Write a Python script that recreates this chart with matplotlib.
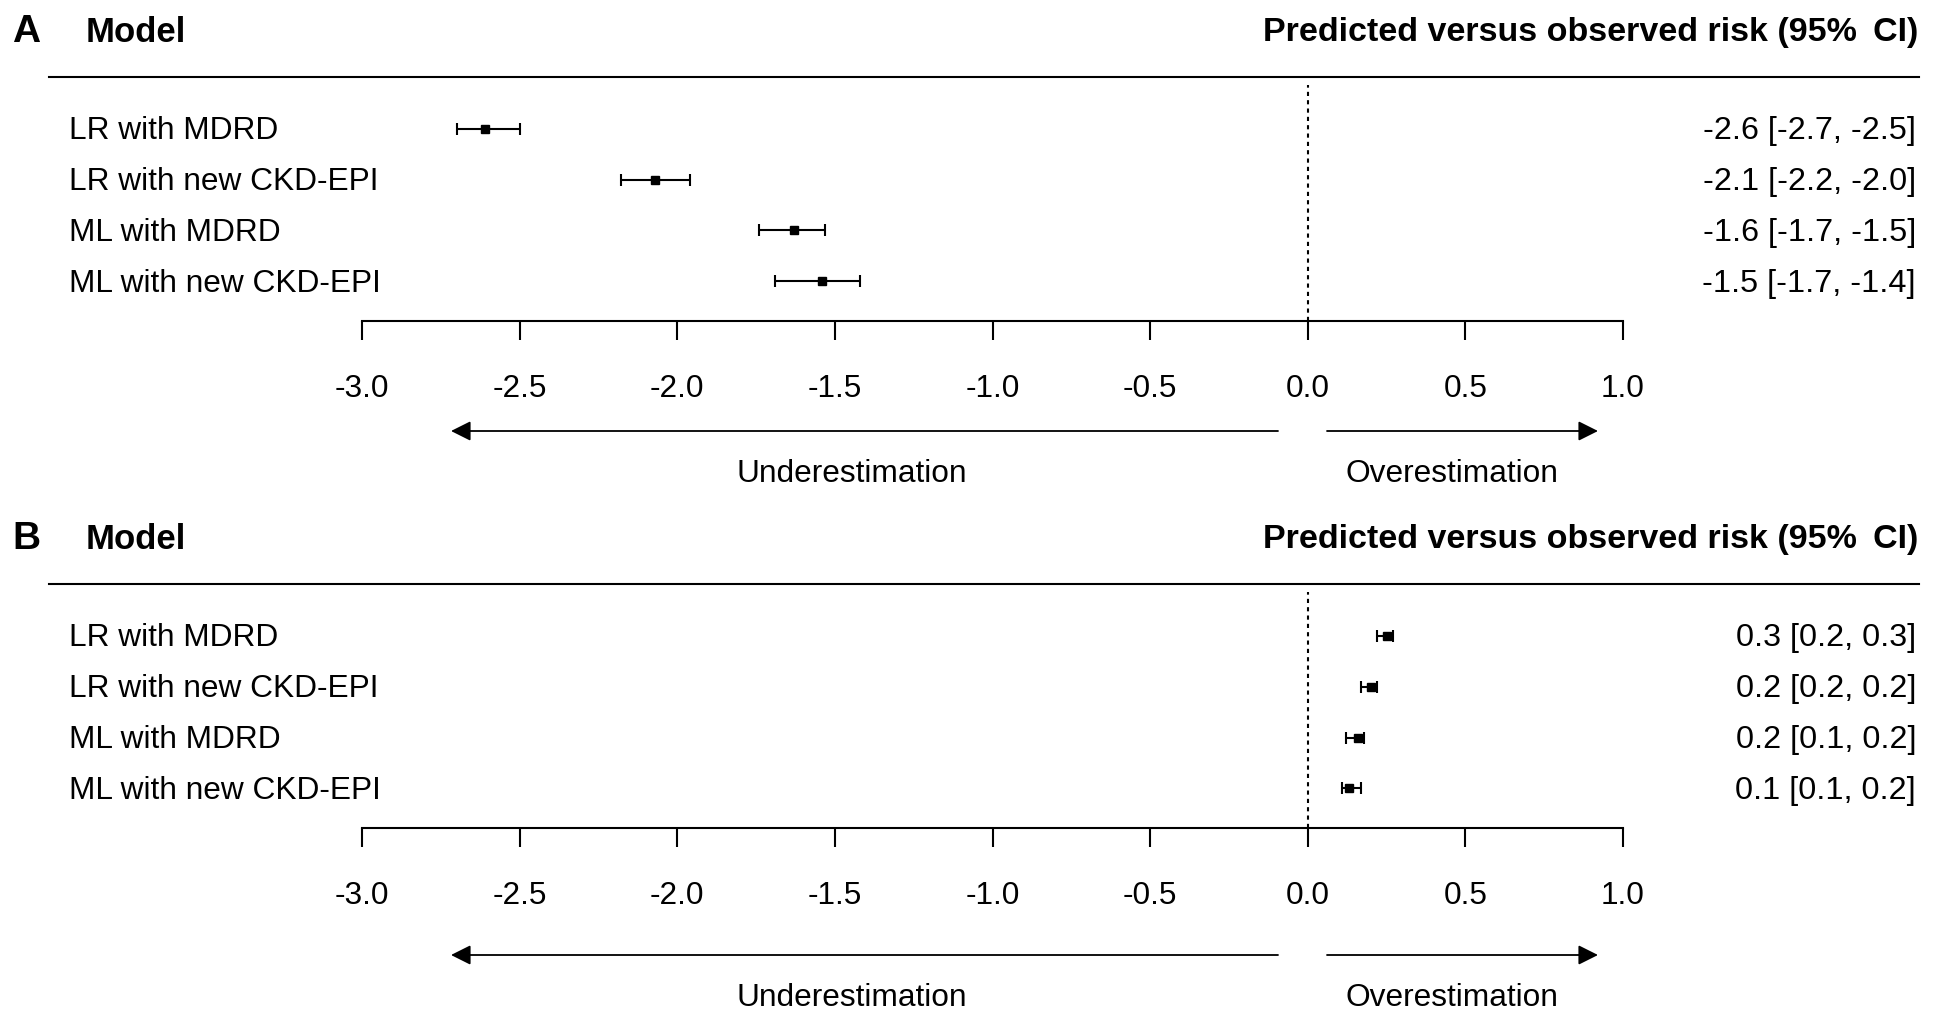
import matplotlib
matplotlib.use("Agg")
import matplotlib.pyplot as plt
from matplotlib.lines import Line2D
from matplotlib.ticker import FixedLocator, FixedFormatter

plt.rcParams['font.family'] = ['Liberation Sans', 'DejaVu Sans']
plt.rcParams['axes.unicode_minus'] = False

# ---------------- data ----------------
models = ["LR with MDRD", "LR with new CKD-EPI", "ML with MDRD", "ML with new CKD-EPI"]

a_est = [-2.61, -2.07, -1.63, -1.54]
a_lo = [-2.70, -2.18, -1.74, -1.69]
a_hi = [-2.50, -1.96, -1.53, -1.42]
a_text = ["-2.6 [-2.7, -2.5]", "-2.1 [-2.2, -2.0]", "-1.6 [-1.7, -1.5]", "-1.5 [-1.7, -1.4]"]

b_est = [0.25, 0.20, 0.16, 0.13]
b_lo = [0.22, 0.17, 0.12, 0.11]
b_hi = [0.27, 0.22, 0.18, 0.17]
b_text = ["0.3 [0.2, 0.3]", "0.2 [0.2, 0.2]", "0.2 [0.1, 0.2]", "0.1 [0.1, 0.2]"]

xticks = [-3.0, -2.5, -2.0, -1.5, -1.0, -0.5, 0.0, 0.5, 1.0]
xticklabels = ["-3.0", "-2.5", "-2.0", "-1.5", "-1.0", "-0.5", "0.0", "0.5", "1.0"]
panel_letters = ["A", "B"]

# ---------------- layout ----------------
W, H = 1950, 1017
fig = plt.figure(figsize=(W / 100, H / 100), dpi=100)


def fx(px):
    return px / W


def fy(py):
    return 1 - py / H


def panel(letter, est, lo, hi, texts, off, arrow_off):
    # header
    fig.text(fx(12), fy(32 + off), letter, fontsize=28, fontweight='bold', ha='left', va='center')
    fig.text(fx(86), fy(32.5 + off), "Model", fontsize=25, fontweight='bold', ha='left', va='center')
    fig.text(fx(1918), fy(32.5 + off), "Predicted versus observed risk (95%\u2009 CI)", fontsize=24.5,
             fontweight='bold', ha='right', va='center', family=['Liberation Sans', 'DejaVu Sans'])
    fig.add_artist(Line2D([fx(49), fx(1919)], [fy(77 + off), fy(77 + off)], color='black', lw=1.5))

    # plot axes
    top_px, bot_px = 85 + off, 321 + off
    row0_px, step_px = 128.7 + off, 50.9
    ax = fig.add_axes([fx(362), fy(bot_px), fx(1623) - fx(362), (bot_px - top_px) / H])
    ylo = 1 - (row0_px - top_px) / step_px
    yhi = 1 + (bot_px - row0_px) / step_px
    ax.set_xlim(-3.0, 1.0)
    ax.set_ylim(yhi, ylo)
    ax.patch.set_visible(False)
    for s in ['top', 'right', 'left']:
        ax.spines[s].set_visible(False)
    ax.spines['bottom'].set_linewidth(1.5)
    ax.set_yticks([])
    ax.xaxis.set_major_locator(FixedLocator(xticks))
    ax.xaxis.set_major_formatter(FixedFormatter(xticklabels))
    ax.tick_params(axis='x', direction='out', length=13.5, width=1.5, pad=25, labelsize=22.7)

    ax.axvline(0, color='black', lw=1.5, linestyle=(0, (2, 2)))

    ys = list(range(1, len(est) + 1))
    xerr = [[e - l for e, l in zip(est, lo)], [h - e for e, h in zip(est, hi)]]
    ax.errorbar(est, ys, xerr=xerr, fmt='s', color='black', ms=5.5, elinewidth=1.5,
                capsize=4, capthick=1.5)

    for i, (m, t) in enumerate(zip(models, texts)):
        ypx = row0_px + i * step_px + 2.5
        fig.text(fx(69), fy(ypx), m, fontsize=22.8, ha='left', va='center')
        fig.text(fx(1916), fy(ypx), t, fontsize=23.3, ha='right', va='center')

    # arrows and direction labels
    ay = fy(431 + arrow_off)
    fig.add_artist(matplotlib.patches.FancyArrowPatch(
        (fx(1278), ay), (fx(451), ay), transform=fig.transFigure,
        arrowstyle='-|>,head_length=0.8,head_width=0.4', mutation_scale=15,
        color='black', lw=1.3, shrinkA=0, shrinkB=0))
    fig.add_artist(matplotlib.patches.FancyArrowPatch(
        (fx(1327), ay), (fx(1598), ay), transform=fig.transFigure,
        arrowstyle='-|>,head_length=0.8,head_width=0.4', mutation_scale=15,
        color='black', lw=1.3, shrinkA=0, shrinkB=0))
    fig.text(fx(852), fy(474 + arrow_off), "Underestimation", fontsize=22.8, ha='center', va='center')
    fig.text(fx(1452), fy(474 + arrow_off), "Overestimation", fontsize=22.8, ha='center', va='center')


panel(panel_letters[0], a_est, a_lo, a_hi, a_text, 0, 0)
panel(panel_letters[1], b_est, b_lo, b_hi, b_text, 507, 524)

fig.savefig("out.png", dpi=100)
